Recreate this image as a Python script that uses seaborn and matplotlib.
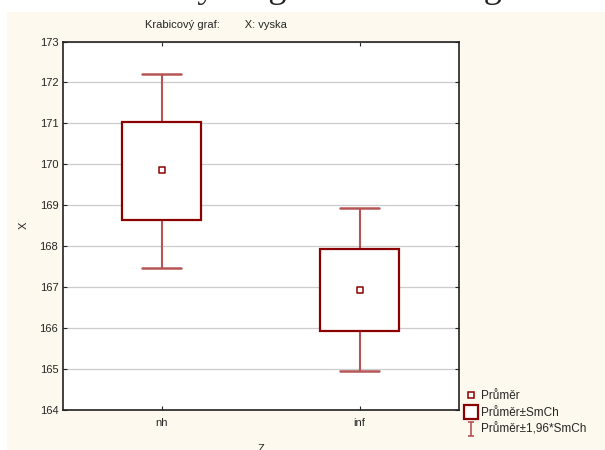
import numpy as np
import pandas as pd
import seaborn as sns
import matplotlib.pyplot as plt
from matplotlib.patches import Rectangle
from matplotlib.lines import Line2D
from matplotlib.path import Path

# values
groups = ["nh", "inf"]
means = [169.85, 166.93]
box_lo = [168.64, 165.91]      # mean - SE
box_hi = [171.04, 167.92]      # mean + SE
whisk_lo = [167.46, 164.93]    # mean - 1.96*SE
whisk_hi = [172.20, 168.92]    # mean + 1.96*SE

y_ticks = list(range(164, 174))

# five points per group -> quartiles = box edges, extremes = whiskers
rows = []
for g, lo, q1, m, q3, hi in zip(groups, whisk_lo, box_lo, means, box_hi, whisk_hi):
    for v in (lo, q1, m, q3, hi):
        rows.append({"Z": g, "X": v})
df = pd.DataFrame(rows)
df_mean = pd.DataFrame({"Z": groups, "X": means})

sns.set_style("white")
plt.rcParams["font.family"] = ["Liberation Sans", "DejaVu Sans"]

dark = "#8b0000"
soft = "#b55555"
cream = "#fdf9ee"

fig = plt.figure(figsize=(6.05, 4.5), dpi=100)
fig.patch.set_facecolor("white")
fig.patches.append(Rectangle((7 / 605, 0), 1, 1 - 12 / 450, transform=fig.transFigure,
                             facecolor=cream, edgecolor="none", zorder=-1))
fig.text(0.5, 1 + 3 / 450, "Krabicový diagram – ostatní graf", ha="center", va="baseline",
         fontsize=26, family=["Liberation Serif", "DejaVu Serif"], color="#222222", zorder=-2)

ax = fig.add_axes([62.5 / 605, 1 - 409.5 / 450, 396 / 605, 368 / 450])
ax.set_zorder(1)
ax.set_facecolor("white")

sns.boxplot(data=df, x="Z", y="X", order=groups, ax=ax, width=0.4, whis=1.5,
            fill=True, color="white", linecolor=dark, linewidth=1.5,
            showfliers=False,
            boxprops=dict(facecolor="white", edgecolor=dark, linewidth=1.6, zorder=3),
            whiskerprops=dict(color=soft, linewidth=1.5, zorder=2),
            capprops=dict(color=soft, linewidth=1.8, zorder=2),
            medianprops=dict(linewidth=0))
sns.scatterplot(data=df_mean, x="Z", y="X", ax=ax, marker="s", s=16,
                facecolor="white", edgecolor=dark, linewidth=1.1, zorder=5)

ax.set_xlim(-0.5, 1.5)
ax.set_ylim(164, 173)
ax.set_yticks(y_ticks)
ax.set_yticklabels([str(t) for t in y_ticks])
ax.yaxis.grid(True, color="#cccccc", linewidth=0.9, zorder=0)
ax.set_axisbelow(True)
ax.tick_params(axis="y", which="both", left=True, direction="out",
               length=3, labelsize=8, pad=3)
ax.tick_params(axis="y", which="both", right=True, direction="in", length=3)
ax.tick_params(axis="x", top=True, bottom=True, direction="in", length=3,
               labelsize=8, pad=6)
for s in ax.spines.values():
    s.set_color("#222222")
    s.set_linewidth(1.2)

ax.set_xlabel("Z", fontsize=8, labelpad=12)
ax.set_ylabel("X", fontsize=8, labelpad=8)

fig.text(145 / 605, 1 - 28 / 450, "Krabicový graf:        X: vyska", fontsize=8,
         ha="left", va="baseline")

# legend
ibar = Path([(-0.5, 1), (0.5, 1), (0, 1), (0, -1), (-0.5, -1), (0.5, -1)],
            [Path.MOVETO, Path.LINETO, Path.MOVETO, Path.LINETO, Path.MOVETO, Path.LINETO])
handles = [
    Line2D([], [], linestyle="none", marker="s", markersize=4, markerfacecolor="white",
           markeredgecolor=dark, markeredgewidth=1.1),
    Line2D([], [], linestyle="none", marker="s", markersize=9.5, markerfacecolor="white",
           markeredgecolor=dark, markeredgewidth=1.6),
    Line2D([], [], linestyle="none", marker=ibar, markersize=10, markerfacecolor="none",
           markeredgecolor=soft, markeredgewidth=1.2),
]
labels = ["Průměr", "Průměr±SmCh", "Průměr±1,96*SmCh"]
fig.legend(handles, labels, loc="upper left", bbox_to_anchor=(466 / 605, 1 - 390 / 450),
           frameon=False, fontsize=8.5, handlelength=0.9, handletextpad=0.35,
           labelspacing=0.4, borderaxespad=0, borderpad=0)

fig.savefig("out.png", dpi=100)
